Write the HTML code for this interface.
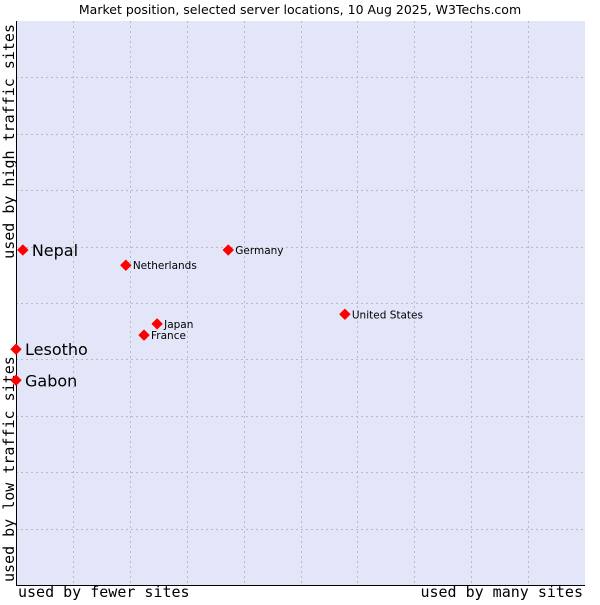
<!DOCTYPE html>
<html><head><meta charset="utf-8"><style>
body{margin:0;background:#fff;width:600px;height:600px;overflow:hidden}
svg text{font-family:"DejaVu Sans","Liberation Sans",sans-serif;fill:#000}
svg text.mono{font-family:"DejaVu Sans Mono","Liberation Mono",monospace}
</style></head><body>
<svg id="chart" width="600" height="600" xmlns="http://www.w3.org/2000/svg">
<text x="300" y="14" text-anchor="middle" font-size="12.5">Market position, selected server locations, 10 Aug 2025, W3Techs.com</text>
<rect x="16" y="21" width="569" height="564" fill="#e3e5f8"/>
<g id="grid"></g>
<line x1="16.5" y1="21" x2="16.5" y2="585" stroke="#000"/>
<line x1="16" y1="585.5" x2="585" y2="585.5" stroke="#000"/>
<text class="mono" x="18" y="597" font-size="15">used by fewer sites</text>
<text class="mono" x="583" y="597" font-size="15" text-anchor="end">used by many sites</text>
<text class="mono" transform="translate(14,582) rotate(-90)" font-size="15">used by low traffic sites</text>
<text class="mono" transform="translate(14,24) rotate(-90)" font-size="15" text-anchor="end">used by high traffic sites</text>
<g id="points"></g>
</svg>
<script>
const names=["Nepal","Lesotho","Gabon","Netherlands","Germany","United States","Japan","France"];
const xVals=[1.2,0,0,19.3,37.3,57.8,24.8,22.5];
const yVals=[59.4,41.8,36.3,56.7,59.4,48.0,46.3,44.3];
const big=[true,true,true,false,false,false,false,false];
const L=16,T=21,W=569,H=564;
const sx=v=>L+v/100*W, sy=v=>T+H-v/100*H;
const NS="http://www.w3.org/2000/svg";
const grid=document.getElementById('grid');
for(let i=1;i<10;i++){
  const a=document.createElementNS(NS,'line');
  const x=Math.round(sx(i*10))+0.5;
  a.setAttribute('x1',x);a.setAttribute('x2',x);a.setAttribute('y1',T);a.setAttribute('y2',T+H);
  a.setAttribute('stroke','#bbb');a.setAttribute('stroke-dasharray','2,3');
  
  
  grid.appendChild(a);
  const b=document.createElementNS(NS,'line');
  const y=Math.round(sy(i*10))+0.5;
  b.setAttribute('y1',y);b.setAttribute('y2',y);b.setAttribute('x1',L);b.setAttribute('x2',L+W);
  b.setAttribute('stroke','#bbb');b.setAttribute('stroke-dasharray','2,3');
  
  
  grid.appendChild(b);
}
const pts=document.getElementById('points');
names.forEach((n,i)=>{
  const x=sx(xVals[i]),y=sy(yVals[i]);
  const p=document.createElementNS(NS,'path');
  p.setAttribute('d',`M${x-5},${y}L${x},${y-5}L${x+5},${y}L${x},${y+5}Z`);
  p.setAttribute('fill','#f00');
  p.setAttribute('stroke','#f00');p.setAttribute('stroke-linejoin','round');p.setAttribute('stroke-width','1');
  
  
  pts.appendChild(p);
  const t=document.createElementNS(NS,'text');
  t.setAttribute('x',x+(big[i]?9:7));
  t.setAttribute('y',y+(big[i]?6:4));
  t.setAttribute('font-size',big[i]?16:10.5);
  t.textContent=n;
  
  
  pts.appendChild(t);
});
</script>
</body></html>
